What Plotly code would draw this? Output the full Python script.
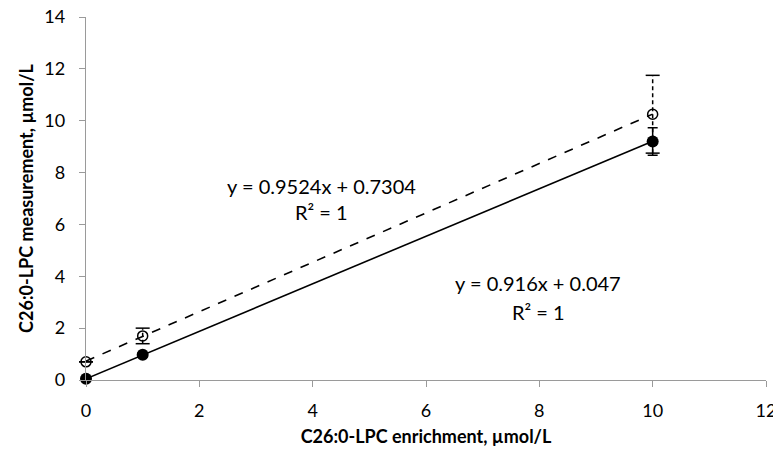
import plotly.graph_objects as go

x_vals = [0, 1, 10]
measured_filled = [0.05, 0.97, 9.2]
err_filled = [0.0, 0.08, 0.53]
measured_open = [0.7, 1.7, 10.25]
err_open = [0.0, 0.3, 1.5]

fit_filled = (0.916, 0.047)
fit_open = (0.9524, 0.7304)
fit_x = [0, 10]

x_ticks = [0, 2, 4, 6, 8, 10, 12]
y_ticks = [0, 2, 4, 6, 8, 10, 12, 14]

font_family = "Lato, 'Open Sans', sans-serif"

fig = go.Figure()

fig.add_trace(go.Scatter(
    x=fit_x, y=[fit_open[0] * v + fit_open[1] for v in fit_x],
    mode="lines", line=dict(color="black", width=1.6, dash="dash"),
    showlegend=False, hoverinfo="skip", cliponaxis=False))
fig.add_trace(go.Scatter(
    x=fit_x, y=[fit_filled[0] * v + fit_filled[1] for v in fit_x],
    mode="lines", line=dict(color="black", width=1.6),
    showlegend=False, hoverinfo="skip", cliponaxis=False))

# dashed error bars for the open series (stems + caps derived from the data)
stem_x, stem_y, cap_x, cap_y = [], [], [], []
for xv, yv, ev in zip(x_vals, measured_open, err_open):
    stem_x += [xv, xv, None]
    stem_y += [yv - ev, yv + ev, None]
    cap_x += [xv, xv]
    cap_y += [yv - ev, yv + ev]
fig.add_trace(go.Scatter(
    x=stem_x, y=stem_y, mode="lines", line=dict(color="black", width=1.5, dash="4px,3px"),
    showlegend=False, hoverinfo="skip", cliponaxis=False))
fig.add_trace(go.Scatter(
    x=cap_x, y=cap_y, mode="markers",
    marker=dict(symbol="line-ew-open", size=10, color="black", line=dict(width=1.5, color="black")),
    showlegend=False, hoverinfo="skip", cliponaxis=False))

fig.add_trace(go.Scatter(
    x=x_vals, y=measured_open, mode="markers", cliponaxis=False,
    marker=dict(symbol="circle-open", size=10, color="black", line=dict(width=1.5)),
    showlegend=False))
fig.add_trace(go.Scatter(
    x=x_vals, y=measured_filled, mode="markers", cliponaxis=False,
    marker=dict(symbol="circle", size=12, color="black"),
    error_y=dict(type="data", array=err_filled, visible=True, color="black", thickness=1.5, width=5),
    showlegend=False))

ann_font = dict(family=font_family, size=20, color="black")
fig.add_annotation(x=4.16, y=7.48, text="y = 0.9524x + 0.7304", showarrow=False, font=ann_font)
fig.add_annotation(x=4.16, y=6.48, text="R² = 1", showarrow=False, font=ann_font)
fig.add_annotation(x=7.98, y=3.74, text="y = 0.916x + 0.047", showarrow=False, font=ann_font)
fig.add_annotation(x=7.98, y=2.62, text="R² = 1", showarrow=False, font=ann_font)

fig.update_layout(
    width=773, height=452,
    margin=dict(l=78, r=15, t=9, b=80),
    plot_bgcolor="white", paper_bgcolor="white",
    font=dict(family=font_family, size=18, color="black"),
    xaxis=dict(range=[0, 12], tickvals=x_ticks, showgrid=False, zeroline=False,
               showline=True, linecolor="#9a9a9a", linewidth=1.3,
               ticks="outside", ticklen=6, tickcolor="#9a9a9a", automargin=False,
               tickfont=dict(size=18), ticklabelstandoff=8, ticklabeloverflow="allow",
               title=dict(text="<b>C26:0-LPC enrichment, µmol/L</b>", standoff=10,
                          font=dict(size=18))),
    yaxis=dict(range=[0, 14], tickvals=y_ticks, showgrid=False, zeroline=False,
               showline=True, linecolor="#9a9a9a", linewidth=1.3,
               ticks="outside", ticklen=6, tickcolor="#9a9a9a", automargin=False,
               tickfont=dict(size=18), ticklabelstandoff=10, ticklabeloverflow="allow",
               title=dict(text="<b>C26:0-LPC measurement, µmol/L</b>", standoff=6,
                          font=dict(size=18))),
)

fig.write_html("out.html")
